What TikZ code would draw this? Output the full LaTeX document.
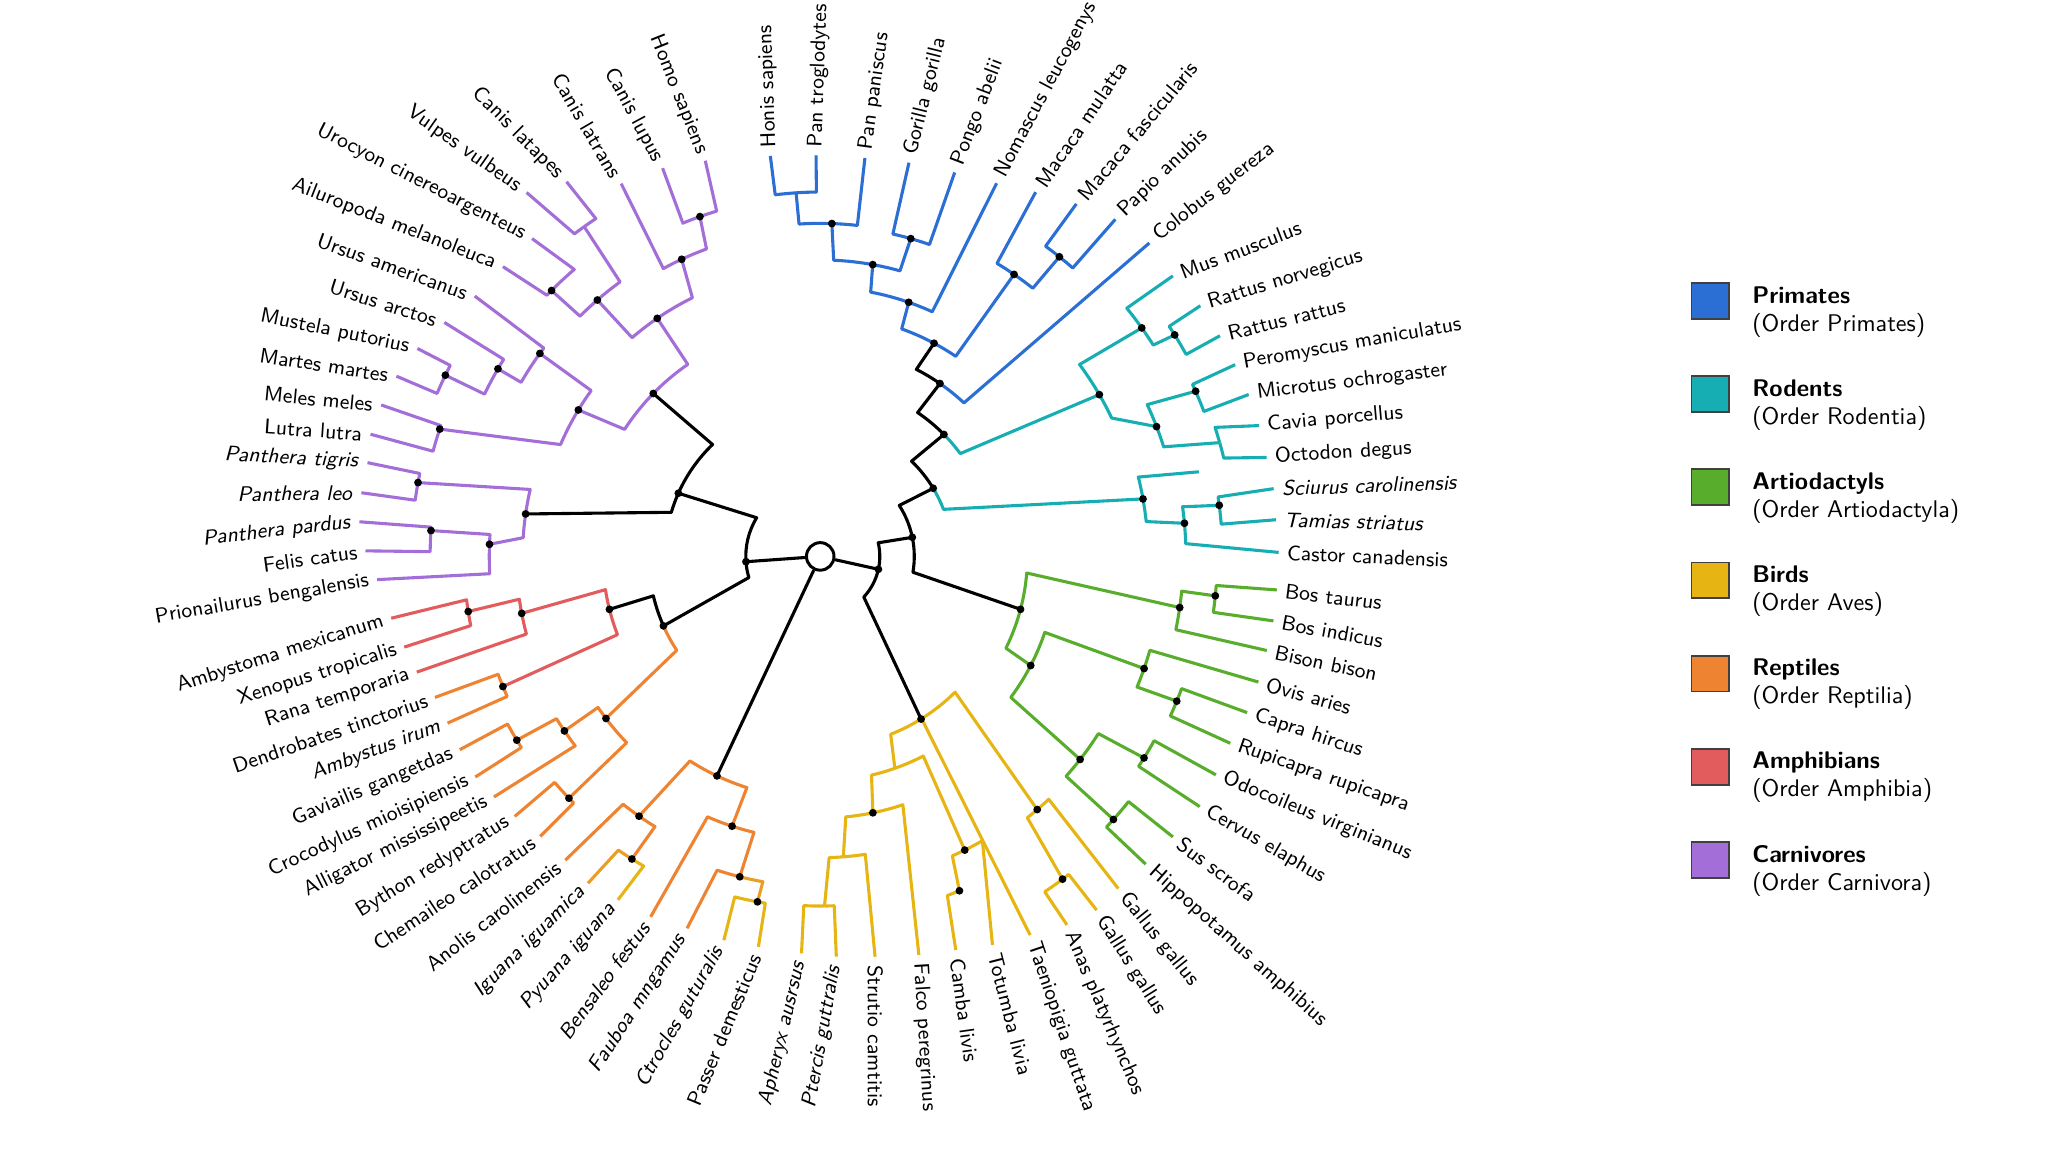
\documentclass[tikz,border=0pt]{standalone}
\usepackage{fontspec}
\usepackage{tikz}
\definecolor{prim}{HTML}{2B6FD4}
\definecolor{rode}{HTML}{17AEB3}
\definecolor{artio}{HTML}{58AD2C}
\definecolor{bird}{HTML}{E6B514}
\definecolor{rebi}{HTML}{EA9E24}
\definecolor{rept}{HTML}{EE8432}
\definecolor{amph}{HTML}{E25C5E}
\definecolor{carn}{HTML}{A46ED9}

% tree point: name, angle, radius
\newcommand{\tn}[3]{%
  \coordinate (#1) at (#2:#3);%
  \expandafter\gdef\csname ang@#1\endcsname{#2}%
  \expandafter\gdef\csname rad@#1\endcsname{#3}}
% arm: colour, parent, end angle of arc, child
\newcommand{\arm}[4]{%
  \draw[#1] (#2) arc[start angle=\csname ang@#2\endcsname, end angle=#3,
    radius={\csname rad@#2\endcsname*0.02cm}] -- (#4);}
\newcommand{\rarm}[3]{\arm{#1}{#2}{\csname ang@#3\endcsname}{#3}}
% leaf: name, angle, radius, rotation, anchor, text
\newcommand{\leaf}[6]{%
  \tn{#1}{#2}{#3}%
  \node[anchor=#5, rotate=#4] (t-#1) at (#1) {#6};}

\begin{document}
\begin{tikzpicture}[x=0.02cm, y=0.02cm]
    \useasboundingbox (-628,-456) rectangle (940,426);
    \node[circle, draw=black, fill=white, line width=1.3pt, minimum size=12pt, inner sep=0pt] (root) at (0,0) {};
    % inner points
    \tn{L1}{184.1}{57} \tn{L2}{156}{118.9} \tn{L3}{203.9}{131.3}
    \tn{P4}{-12.5}{45.6} \tn{P3}{11.7}{72} \tn{P2}{31.1}{101} \tn{P1}{44.6}{133}
    \tn{B0}{244.8}{185.7}
    \tn{C0}{135.7}{178.6} \tn{Q3}{124.4}{220.9} \tn{Q2}{115}{251} \tn{Q1}{109.5}{276}
    \tn{Q4}{131}{260.1} \tn{Q6}{125.6}{310.5} \tn{Q5}{135.3}{289.4}
    \tn{K0}{148.8}{216.5} \tn{U1}{144.1}{265} \tn{U2}{149.8}{285.5} \tn{U3}{154.2}{318.8}
    \tn{M1}{161.5}{307.2}
    \tn{F0}{171.8}{227.9} \tn{F1}{169.6}{313.1} \tn{F2}{177.9}{253.4} \tn{F3}{176.2}{298.7}
    \tn{AM0}{194.1}{166.4} \tn{AM1}{190.8}{232.7} \tn{AM2}{202.3}{262.6} \tn{AM3}{188.9}{272.8}
    \tn{RG1}{217.1}{205.7} \tn{RG2}{214.3}{237.1} \tn{RG3}{211.2}{271.6} \tn{RG4}{223.9}{267}
    \tn{BL1}{235.1}{242.5} \tn{BL2}{238.1}{272.9} \tn{BL3}{251.9}{217.3}
    \tn{BL4}{255.9}{252.9} \tn{BL5}{259.7}{268.8}
    \tn{N9}{55.3}{161} \tn{N8}{61.9}{185} \tn{N5}{70.8}{206} \tn{N4}{79.8}{227}
    \tn{N3}{74.1}{253} \tn{N2}{88}{255} \tn{N1}{93.8}{279} \tn{N7}{55.5}{262} \tn{N6}{51.4}{293.5}
    \tn{R6}{30.1}{247} \tn{R2}{35.4}{302} \tn{R1}{32}{320} \tn{R5}{21.1}{276}
    \tn{R3}{23.75}{314} \tn{R4}{15.9}{318} \tn{R9}{10.1}{251} \tn{R8}{5.2}{280}
    \tn{R7}{7.3}{308} \tn{Rs}{12.6}{297}
    \tn{A0}{-14.8}{158.6} \tn{A2}{-8.1}{278} \tn{A1}{-5.7}{304} \tn{A3}{-27.4}{181.5}
    \tn{A4}{-19.1}{262.4} \tn{A5}{-22.1}{294.6} \tn{A6}{-38}{252.5} \tn{A7}{-31.9}{292}
    \tn{A8}{-41.9}{301.6}
    \tn{Y0}{-58.2}{146.5} \tn{Y1}{-49.4}{255.3} \tn{Y2}{-53.1}{309} \tn{Y3}{-70.6}{172}
    \tn{Y4}{-63.8}{250.6} \tn{Y5}{-67.4}{277.3} \tn{Y6}{-78.4}{200.4} \tn{Y7}{-85.6}{230.7}
    \tn{Y8}{-89.3}{267.7}
    % leaves
    \begin{scope}
        \tikzstyle{every node}=[font=\sffamily\fontsize{9.2}{10}\selectfont, inner xsep=3.5pt, inner ysep=1pt, text=black]
        \leaf{honis}{97.1}{309}{92}{west}{Honis sapiens}
        \leaf{pantro}{90.6}{307}{88}{west}{Pan troglodytes}
        \leaf{panpan}{83.6}{307}{82}{west}{Pan paniscus}
        \leaf{gorilla}{77.3}{309}{76}{west}{Gorilla gorilla}
        \leaf{pongo}{70.7}{311.5}{69}{west}{Pongo abelii}
        \leaf{nomascus}{64.7}{316}{62}{west}{Nomascus leucogenys}
        \leaf{macmul}{59.4}{324}{56}{west}{Macaca mulatta}
        \leaf{macfas}{54}{333.6}{50}{west}{Macaca fascicularis}
        \leaf{papio}{48.8}{343}{44}{west}{Papio anubis}
        \leaf{colobus}{43.6}{348}{38}{west}{Colobus guereza}
        \leaf{mus}{38.5}{345}{21}{west}{Mus musculus}
        \leaf{rnorv}{33.4}{348.6}{17}{west}{Rattus norvegicus}
        \leaf{rrat}{28.9}{349.6}{14}{west}{Rattus rattus}
        \leaf{pero}{24.8}{350}{10}{west}{Peromyscus maniculatus}
        \leaf{micro}{20.7}{350.7}{7}{west}{Microtus ochrogaster}
        \leaf{cavia}{16.6}{350.6}{5}{west}{Cavia porcellus}
        \leaf{octo}{12.5}{350}{3.5}{west}{Octodon degus}
        \leaf{sciu}{8.5}{351}{2}{west}{\textit{Sciurus carolinensis}}
        \leaf{tami}{4.6}{350}{-1.5}{west}{\textit{Tamias striatus}}
        \leaf{castor}{0.5}{351}{-2.5}{west}{Castor canadensis}
        \leaf{bostau}{-4.2}{350.5}{-7}{west}{Bos taurus}
        \leaf{bosind}{-8.1}{350.5}{-10.4}{west}{Bos indicus}
        \leaf{bison}{-11.9}{349.4}{-12}{west}{Bison bison}
        \leaf{ovis}{-16}{349}{-15.5}{west}{Ovis aries}
        \leaf{capra}{-20.1}{348}{-18.6}{west}{Capra hircus}
        \leaf{rupi}{-24.5}{345}{-19.3}{west}{Rupicapra rupicapra}
        \leaf{odoc}{-28.9}{346}{-22.2}{west}{Odocoileus virginianus}
        \leaf{cervus}{-33.4}{348}{-30}{west}{Cervus elaphus}
        \leaf{sus}{-38.5}{345}{-36.5}{west}{Sus scrofa}
        \leaf{hippo}{-43.4}{343}{-41.5}{west}{Hippopotamus amphibius}
        \leaf{gallusA}{-48.1}{341.7}{-51.3}{west}{Gallus gallus}
        \leaf{gallusB}{-52}{343.7}{-57.8}{west}{Gallus gallus}
        \leaf{anas}{-56.2}{339.6}{-67}{west}{Anas platyrhynchos}
        \leaf{taenio}{-61}{331.5}{-71.4}{west}{Taeniopigia guttata}
        \leaf{tolumba}{-66.1}{325.5}{-75.6}{west}{Totumba livia}
        \leaf{camba}{-71}{318.7}{-82}{west}{Camba livis}
        \leaf{falco}{-76.1}{314.4}{-86.5}{west}{Falco peregrinus}
        \leaf{strutio}{-82.2}{309.4}{-90}{west}{Strutio camtitis}
        \leaf{ptercis}{-87.7}{306.7}{80}{east}{\textit{Ptercis guttralis}}
        \leaf{apheryx}{-92.7}{304.3}{76.8}{east}{\textit{Apheryx ausrsus}}
        \leaf{passer}{261}{302.6}{67.5}{east}{Passer demesticus}
        \leaf{ctrocles}{255.9}{303}{60.6}{east}{\textit{Ctrocles guturalis}}
        \leaf{fauboa}{250.3}{302.5}{57}{east}{\textit{Fauboa mngamus}}
        \leaf{bensaleo}{244.8}{305}{54}{east}{\textit{Bensaleo festus}}
        \leaf{pyuana}{239.5}{305.2}{48.9}{east}{\textit{Pyuana iguana}}
        \leaf{iguana}{234.6}{307}{45}{east}{\textit{Iguana iguamica}}
        \leaf{anolis}{230}{303.6}{38}{east}{Anolis carolinensis}
        \leaf{chemaileo}{225}{303.2}{33.5}{east}{Chemaileo calotratus}
        \leaf{bython}{220.4}{307.2}{31.7}{east}{Bython redyptratus}
        \leaf{alligator}{216.4}{310.4}{26.6}{east}{Alligator mississipeetis}
        \leaf{crocodylus}{212.6}{313.5}{24.7}{east}{Crocodylus mioisipiensis}
        \leaf{gaviailis}{208.2}{313.2}{23}{east}{Gaviailis gangetdas}
        \leaf{ambystus}{204.1}{312.6}{20.8}{east}{\textit{Ambystus irum}}
        \leaf{dendro}{200.1}{314.1}{18.9}{east}{Dendrobates tinctorius}
        \leaf{rana}{196}{321.3}{18}{east}{Rana temporaria}
        \leaf{xenopus}{192.3}{326}{17.5}{east}{Xenopus tropicalis}
        \leaf{ambystoma}{188.2}{331.9}{17.8}{east}{Ambystoma mexicanum}
        \leaf{prion}{183}{339.7}{9.9}{east}{Prionailurus bengalensis}
        \leaf{felis}{179.3}{348.2}{7.9}{east}{Felis catus}
        \leaf{pardus}{175.7}{353.8}{6.6}{east}{\textit{Panthera pardus}}
        \leaf{leo}{172.1}{354.7}{0.7}{east}{\textit{Panthera leo}}
        \leaf{tigris}{168.3}{354}{-2.9}{east}{\textit{Panthera tigris}}
        \leaf{lutra}{164.8}{356.8}{-4}{east}{Lutra lutra}
        \leaf{meles}{160.97}{355.6}{-5.5}{east}{Meles meles}
        \leaf{martes}{156.96}{352.6}{-8.8}{east}{Martes martes}
        \leaf{mustela}{152.7}{347.1}{-11.5}{east}{Mustela putorius}
        \leaf{ursarc}{148.1}{339}{-17.6}{east}{Ursus arctos}
        \leaf{ursame}{143}{331.2}{-19.7}{east}{Ursus americanus}
        \leaf{ailuro}{137.6}{329}{-21.4}{east}{Ailuropoda melanoleuca}
        \leaf{urocyon}{132.2}{328.5}{-27}{east}{Urocyon cinereoargenteus}
        \leaf{vulpes}{128.9}{358}{-35}{east}{Vulpes vulbeus}
        \leaf{latupes}{124.1}{346.4}{-45}{east}{Canis latapes}
        \leaf{latrans}{118.1}{323.6}{-59.7}{east}{Canis latrans}
        \leaf{lupus}{112.1}{320.8}{-61.7}{east}{Canis lupus}
        \leaf{homo}{106.2}{315.5}{-68.2}{east}{Homo sapiens}
    \end{scope}
    % branches
    \begin{scope}
        \tikzstyle{every path}=[line width=1.35pt, line join=round]
        \draw (root) -- (L1);
        \draw (root) -- (P4);
        \draw (root) -- (B0);
        \arm{black}{L1}{148.7}{L2}
        \arm{black}{L1}{196.5}{L3}
        \arm{black}{L2}{133.9}{C0}
        \arm{black}{L2}{163.5}{F0}
        \arm{black}{P4}{13.2}{P3}
        \arm{black}{P4}{-43}{Y0}
        \arm{black}{P3}{32.8}{P2}
        \arm{black}{P3}{-9.7}{A0}
        \arm{black}{P2}{46.2}{P1}
        \arm{rode}{P2}{20.9}{R9}
        \arm{black}{P1}{55.9}{N9}
        \arm{rode}{P1}{36.3}{R6}
        \arm{black}{L3}{193.3}{AM0}
        \arm{rept}{L3}{213.2}{RG1}
        \arm{rept}{B0}{237.5}{BL1}
        \arm{rept}{B0}{252.4}{BL3}
        % carnivores
        \arm{carn}{C0}{124.6}{Q3}
        \arm{carn}{C0}{147}{K0}
        \arm{carn}{Q3}{116.3}{Q2}
        \arm{carn}{Q3}{130.7}{Q4}
        \arm{carn}{Q2}{110.3}{Q1}
        \arm{carn}{Q2}{118.6}{latrans}
        \arm{carn}{Q1}{106.7}{homo}
        \arm{carn}{Q1}{112.4}{lupus}
        \arm{carn}{Q4}{126.1}{Q6}
        \arm{carn}{Q4}{135}{Q5}
        \arm{carn}{Q6}{123.6}{latupes}
        \arm{carn}{Q6}{127.3}{vulpes}
        \arm{carn}{Q5}{130.6}{urocyon}
        \arm{carn}{Q5}{136.3}{ailuro}
        \rarm{carn}{K0}{U1}
        \arm{carn}{K0}{156.7}{M1}
        \rarm{carn}{U1}{ursame}
        \rarm{carn}{U1}{U2}
        \rarm{carn}{U2}{ursarc}
        \rarm{carn}{U2}{U3}
        \rarm{carn}{U3}{mustela}
        \rarm{carn}{U3}{martes}
        \rarm{carn}{M1}{meles}
        \rarm{carn}{M1}{lutra}
        \arm{carn}{F0}{167}{F1}
        \arm{carn}{F0}{176.4}{F2}
        \rarm{carn}{F1}{tigris}
        \rarm{carn}{F1}{leo}
        \rarm{carn}{F2}{F3}
        \rarm{carn}{F2}{prion}
        \rarm{carn}{F3}{pardus}
        \rarm{carn}{F3}{felis}
        % amphibians and reptiles
        \arm{amph}{AM0}{188.8}{AM1}
        \arm{amph}{AM0}{201.1}{AM2}
        \arm{amph}{AM1}{188.1}{AM3}
        \arm{amph}{AM1}{194.8}{rana}
        \arm{amph}{AM3}{187}{ambystoma}
        \arm{amph}{AM3}{191.2}{xenopus}
        \rarm{rept}{AM2}{dendro}
        \rarm{rept}{AM2}{ambystus}
        \arm{rept}{RG1}{214.2}{RG2}
        \arm{rept}{RG1}{223.9}{RG4}
        \arm{rept}{RG2}{211.6}{RG3}
        \arm{rept}{RG2}{217.7}{alligator}
        \rarm{rept}{RG3}{gaviailis}
        \rarm{rept}{RG3}{crocodylus}
        \rarm{rept}{RG4}{bython}
        \rarm{rept}{RG4}{chemaileo}
        \arm{rept}{BL1}{231.5}{anolis}
        \arm{rept}{BL1}{238.55}{BL2}
        \arm{rebi}{BL2}{235.5}{iguana}
        \arm{bird}{BL2}{240.3}{pyuana}
        \arm{rept}{BL3}{246.6}{bensaleo}
        \arm{rept}{BL3}{256.5}{BL4}
        \arm{rept}{BL4}{251.8}{fauboa}
        \arm{rebi}{BL4}{260}{BL5}
        \rarm{bird}{BL5}{ctrocles}
        \rarm{bird}{BL5}{passer}
        % primates
        \arm{black}{N9}{62.8}{N8}
        \arm{prim}{N9}{46.9}{colobus}
        \arm{prim}{N8}{70.3}{N5}
        \arm{prim}{N8}{55.9}{N7}
        \arm{prim}{N5}{79.2}{N4}
        \arm{prim}{N5}{65.4}{nomascus}
        \arm{prim}{N4}{87.4}{N2}
        \arm{prim}{N4}{74.4}{N3}
        \arm{prim}{N2}{93.65}{N1}
        \arm{prim}{N2}{83.6}{panpan}
        \rarm{prim}{N1}{honis}
        \rarm{prim}{N1}{pantro}
        \rarm{prim}{N3}{gorilla}
        \rarm{prim}{N3}{pongo}
        \arm{prim}{N7}{58.9}{macmul}
        \arm{prim}{N7}{51.6}{N6}
        \rarm{prim}{N6}{macfas}
        \rarm{prim}{N6}{papio}
        % rodents
        \arm{rode}{R6}{36.5}{R2}
        \arm{rode}{R6}{25.4}{R5}
        \arm{rode}{R2}{39}{mus}
        \arm{rode}{R2}{32.4}{R1}
        \rarm{rode}{R1}{rnorv}
        \rarm{rode}{R1}{rrat}
        \arm{rode}{R5}{24.9}{R3}
        \arm{rode}{R5}{17.7}{R4}
        \rarm{rode}{R3}{pero}
        \rarm{rode}{R3}{micro}
        \arm{rode}{R4}{18.1}{cavia}
        \arm{rode}{R4}{13.7}{octo}
        \arm{rode}{R9}{14}{Rs}
        \arm{rode}{R9}{6.1}{R8}
        \arm{rode}{R8}{7.8}{R7}
        \arm{rode}{R8}{2}{castor}
        \rarm{rode}{R7}{sciu}
        \rarm{rode}{R7}{tami}
        % artiodactyls
        \arm{artio}{A0}{-4.6}{A2}
        \arm{artio}{A0}{-26.3}{A3}
        \arm{artio}{A2}{-5.5}{A1}
        \arm{artio}{A2}{-11.65}{bison}
        \rarm{artio}{A1}{bostau}
        \rarm{artio}{A1}{bosind}
        \arm{artio}{A3}{-18.7}{A4}
        \arm{artio}{A3}{-36.5}{A6}
        \arm{artio}{A4}{-15.9}{ovis}
        \arm{artio}{A4}{-22.4}{A5}
        \rarm{artio}{A5}{capra}
        \rarm{artio}{A5}{rupi}
        \arm{artio}{A6}{-32.5}{A7}
        \arm{artio}{A6}{-41.8}{A8}
        \rarm{artio}{A7}{odoc}
        \rarm{artio}{A7}{cervus}
        \rarm{artio}{A8}{sus}
        \rarm{artio}{A8}{hippo}
        % birds
        \arm{bird}{Y0}{-45.2}{Y1}
        \arm{bird}{Y0}{-58}{taenio}
        \arm{bird}{Y0}{-68.4}{Y3}
        \arm{bird}{Y1}{-46.75}{gallusA}
        \arm{bird}{Y1}{-51.6}{Y2}
        \rarm{bird}{Y2}{gallusB}
        \rarm{bird}{Y2}{anas}
        \arm{bird}{Y3}{-76.8}{Y6}
        \arm{bird}{Y3}{-62.7}{Y4}
        \arm{bird}{Y6}{-84.4}{Y7}
        \arm{bird}{Y6}{-71.6}{falco}
        \arm{bird}{Y7}{-88.3}{Y8}
        \arm{bird}{Y7}{-81.4}{strutio}
        \rarm{bird}{Y8}{apheryx}
        \rarm{bird}{Y8}{ptercis}
        \arm{bird}{Y4}{-66.2}{Y5}
        \arm{bird}{Y4}{-60.3}{tolumba}
        \arm{bird}{Y5}{-69.45}{camba}
    \end{scope}
    % node dots
    \begin{scope}
        \tikzstyle{every node}=[circle, fill=black, inner sep=0pt, minimum size=3.4pt]
        \foreach \n in {L1,L2,L3,P1,P2,P3,P4,B0,C0,Q1,Q2,Q3,Q4,Q5,K0,U1,U2,U3,M1,F0,F1,F2,F3,
            AM0,AM1,AM2,AM3,RG1,RG2,RG3,RG4,BL1,BL2,BL3,BL4,BL5,N2,N3,N4,N5,N6,N7,N8,N9,
            R1,R2,R3,R5,R6,R7,R8,R9,A0,A1,A2,A3,A4,A5,A6,A7,A8,Y0,Y1,Y2,Y4,Y5,Y6}
            \node (d-\n) at (\n) {};
    \end{scope}
    % legend
    \begin{scope}
        \tikzstyle{legbox}=[draw=black!75, line width=0.8pt, minimum width=0.58cm, minimum height=0.55cm, inner sep=0pt]
        \tikzstyle{legtext}=[anchor=west, align=left, inner sep=0pt, font=\sffamily\fontsize{10.5}{12.2}\selectfont]
        \foreach \col/\ttl/\sub [count=\i from 0] in {prim/Primates/Primates, rode/Rodents/Rodentia,
            artio/Artiodactyls/Artiodactyla, bird/Birds/Aves, rept/Reptiles/Reptilia,
            amph/Amphibians/Amphibia, carn/Carnivores/Carnivora} {
            \node[legbox, fill=\col] (box-\i) at (681.5, 195.5-71.3*\i) {};
            \node[legtext] (leg-\i) at (713.3, 187.2-71.3*\i) {\textbf{\ttl}\\(Order \sub)};
        }
    \end{scope}
\end{tikzpicture}
\end{document}
